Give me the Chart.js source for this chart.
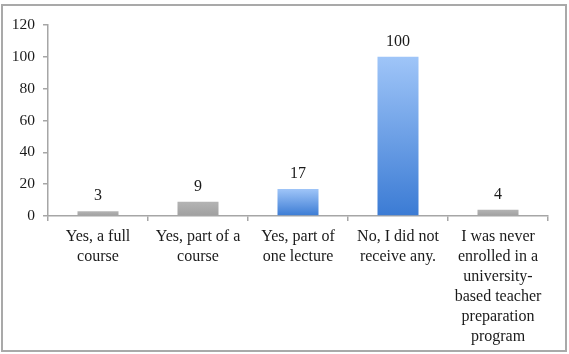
<!DOCTYPE html>
<html>
<head>
<meta charset="utf-8">
<script src="https://cdn.jsdelivr.net/npm/chart.js@4/dist/chart.umd.min.js"></script>
<style>
  html, body { margin: 0; padding: 0; background: #ffffff; }
  #wrap { position: relative; width: 569px; height: 354px; }
  #frame { position: absolute; left: 1px; top: 4px; width: 566px; height: 348px;
           border: 2px solid #a9a9a9; box-sizing: border-box; pointer-events: none; }
  canvas { position: absolute; left: 0; top: 0; }
</style>
</head>
<body>
<div id="wrap">
  <canvas id="c" width="569" height="354"></canvas>
  <div id="frame"></div>
</div>
<script>
// ---- data ----
const categories = [
  ["Yes, a full", "course"],
  ["Yes, part of a", "course"],
  ["Yes, part of", "one lecture"],
  ["No, I did not", "receive any."],
  ["I was never", "enrolled in a", "university-", "based teacher", "preparation", "program"]
];
const values = [3, 9, 17, 100, 4];
const yTickValues = [0, 20, 40, 60, 80, 100, 120];

// ---- styles ----
const barKinds = ["gray", "gray", "blue", "blue", "gray"];
const FONT = "'Liberation Serif', 'Times New Roman', serif";
const AXIS = "#a6a6a6";

function barFill(context) {
  const chart = context.chart;
  const i = context.dataIndex;
  const kind = barKinds[i];
  const fallback = kind === 'blue' ? '#6a9fe6' : '#a9a9a9';
  const ys = chart.scales && chart.scales.y;
  if (!chart.chartArea || !ys) return fallback;
  const top = ys.getPixelForValue(values[i]);
  const base = ys.getPixelForValue(0);
  if (!isFinite(top) || !isFinite(base) || base - top < 0.5) return fallback;
  const g = chart.ctx.createLinearGradient(0, top, 0, base);
  if (kind === 'blue') {
    g.addColorStop(0, '#9fc5f8');
    g.addColorStop(1, '#3b7bd4');
  } else {
    g.addColorStop(0, '#b4b4b4');
    g.addColorStop(1, '#a0a0a0');
  }
  return g;
}

const labelPlugin = {
  id: 'valueLabels',
  afterDatasetsDraw(chart) {
    const ctx = chart.ctx;
    const meta = chart.getDatasetMeta(0);
    ctx.save();
    ctx.font = "16px " + FONT;
    ctx.fillStyle = "#1a1a1a";
    ctx.textAlign = "center";
    ctx.textBaseline = "middle";
    meta.data.forEach((el, i) => {
      ctx.fillText(String(values[i]), el.x, el.y - 15);
    });
    ctx.restore();
  }
};

new Chart(document.getElementById('c'), {
  type: 'bar',
  data: {
    labels: categories,
    datasets: [{
      data: values,
      backgroundColor: barFill,
      borderWidth: 0,
      categoryPercentage: 1.0,
      barPercentage: 0.41
    }]
  },
  options: {
    responsive: false,
    animation: false,
    devicePixelRatio: 1,
    layout: { padding: { left: 0, right: 21, top: 25, bottom: 0 } },
    plugins: { legend: { display: false }, tooltip: { enabled: false } },
    scales: {
      x: {
        grid: { display: true, drawOnChartArea: false, drawTicks: true, tickLength: 5,
                offset: true, color: AXIS, lineWidth: 1.5 },
        border: { display: true, color: AXIS, width: 1.5 },
        ticks: { color: '#1a1a1a', font: { family: FONT, size: 16, lineHeight: 1.25 },
                 padding: 6, maxRotation: 0, autoSkip: false },
        afterFit(scale) { scale.height = 138; }
      },
      y: {
        min: yTickValues[0],
        max: yTickValues[yTickValues.length - 1],
        afterBuildTicks(scale) { scale.ticks = yTickValues.map(v => ({ value: v })); },
        grid: { display: true, drawOnChartArea: false, drawTicks: true, tickLength: 5,
                color: AXIS, lineWidth: 1.5 },
        border: { display: true, color: AXIS, width: 1.5 },
        ticks: { color: '#1a1a1a', font: { family: FONT, size: 15.5 }, padding: 8 },
        afterFit(scale) { scale.width = 48; }
      }
    }
  },
  plugins: [labelPlugin]
});
</script>
</body>
</html>
